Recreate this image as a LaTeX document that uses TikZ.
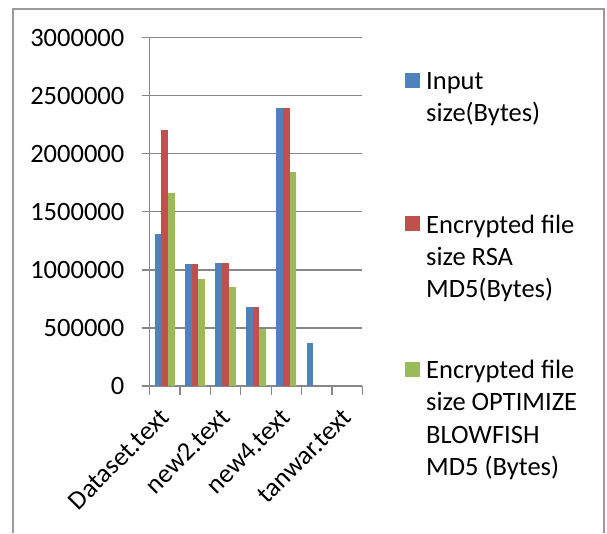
\documentclass[tikz,border=0pt]{standalone}
\usepackage{fontspec}
\setmainfont{Carlito}
\usetikzlibrary{positioning}
\definecolor{inputblue}{HTML}{4F81BD}
\definecolor{rsared}{HTML}{C0504D}
\definecolor{bfgreen}{HTML}{9BBB59}
\definecolor{gridgray}{HTML}{878787}
\definecolor{framegray}{HTML}{9A9A9A}

\begin{document}
\begin{tikzpicture}[
         x=1pt, y=-1pt,
         chartfont/.style={font=\fontsize{26.5}{32.3}\selectfont},
         gridline/.style={draw=gridgray, line width=1.2pt},
         frameline/.style={draw=framegray, line width=2pt},
         axislabel/.style={chartfont, inner sep=0pt, anchor=east},
         catlabel/.style={chartfont, inner sep=0pt, rotate=45, anchor=base east},
         legendkey/.style={minimum size=15pt, inner sep=0pt, anchor=south west},
         legendtext/.style={chartfont, inner sep=0pt, anchor=base west, align=left}
      ]
         \useasboundingbox (0,0) rectangle (607,533);

         % Outer frame (bottom edge is cut off)
         \draw[frameline] (13,533) -- (13,8.5) -- (604.3,8.5) -- (604.3,533);

         % Gridlines, ticks and value labels
         \foreach \i/\lab in {0/0, 1/500000, 2/1000000, 3/1500000, 4/2000000, 5/2500000, 6/3000000} {
            \draw[gridline] (141.5,{386-\i*58.05}) -- (362.3,{386-\i*58.05});
            \node[axislabel] (ylab\i) at (124.5,{386-\i*58.05}) {\lab};
         }
         \draw[gridline] (149.5,37.7) -- (149.5,386);
         \foreach \i in {0,...,7}
            \draw[gridline] ({149.5+\i*30.4},386) -- ++(0,9);

         % Bars (values in thousands of bytes)
         \foreach \c/\va/\vb/\vc in {0/1313/2205/1665, 1/1053/1053/921, 2/1058/1058/855,
                                     3/682/682/489, 4/2395/2395/1846, 5/374/0/0} {
            \fill[inputblue] ({149.5+\c*30.4+5.07},386) rectangle ++(6.76,{-\va*0.1161});
            \fill[rsared] ({149.5+\c*30.4+11.83},386) rectangle ++(6.76,{-\vb*0.1161});
            \fill[bfgreen] ({149.5+\c*30.4+18.59},386) rectangle ++(6.76,{-\vc*0.1161});
         }

         % Category labels
         \node[catlabel] (catdataset) at ({164.7+6},419) {Dataset.text};
         \node[catlabel] (catnewtwo) at ({225.5+6},419) {new2.text};
         \node[catlabel] (catnewfour) at ({286.3+6},419) {new4.text};
         \node[catlabel] (cattanwar) at ({347.1+6},419) {tanwar.text};

         % Legend (text nodes sit on the baseline of their last line)
         \node[legendkey, fill=inputblue] (keyinput) at (405,87.7) {};
         \node[legendtext] (txtinput) at (426,121.6) {Input\\size(Bytes)};
         \node[legendkey, fill=rsared] (keyrsa) at (405,231.6) {};
         \node[legendtext] (txtrsa) at (426,297.6) {Encrypted file\\size RSA\\MD5(Bytes)};
         \node[legendkey, fill=bfgreen] (keyblowfish) at (405,376.7) {};
         \node[legendtext] (txtblowfish) at (426,475.3) {Encrypted file\\size OPTIMIZE\\BLOWFISH\\MD5 (Bytes)};
      \end{tikzpicture}
\end{document}
